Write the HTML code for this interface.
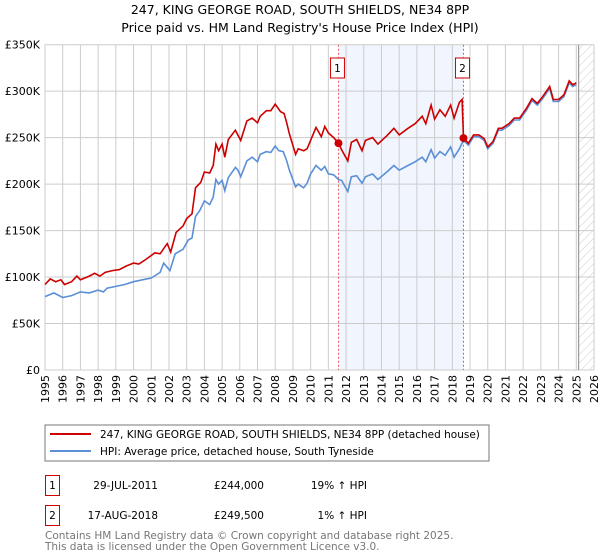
<!DOCTYPE html>
<html><head><meta charset="utf-8"><style>
body{margin:0;background:#fff;font-family:"DejaVu Sans","Liberation Sans",sans-serif}
svg{display:block}
</style></head><body>
<svg id="c" width="600" height="560" font-family="DejaVu Sans, Liberation Sans, sans-serif">
<defs><pattern id="hatch" width="6" height="6" patternUnits="userSpaceOnUse" patternTransform="rotate(45)"><line x1="0" y1="0" x2="0" y2="6" stroke="#ccc" stroke-width="1"/></pattern></defs>
<text x="300" y="14" text-anchor="middle" font-size="12.5" fill="#000">247, KING GEORGE ROAD, SOUTH SHIELDS, NE34 8PP</text>
<text x="300" y="32" text-anchor="middle" font-size="12.5" fill="#000">Price paid vs. HM Land Registry's House Price Index (HPI)</text>
<g id="plot"></g>
<rect x="45" y="425" width="444" height="36" fill="#fff" stroke="#777"/>
<line x1="50" y1="434" x2="91" y2="434" stroke="#cc0000" stroke-width="2"/>
<text x="100" y="438" font-size="10.5">247, KING GEORGE ROAD, SOUTH SHIELDS, NE34 8PP (detached house)</text>
<line x1="50" y1="451" x2="91" y2="451" stroke="#5b8fd6" stroke-width="2"/>
<text x="100" y="455" font-size="10.5">HPI: Average price, detached house, South Tyneside</text>
<g font-size="10.5">
<rect x="45.5" y="475.5" width="14" height="20" fill="#fff" stroke="#cc0000"/>
<text x="52.5" y="489" text-anchor="middle">1</text>
<text x="158" y="489" text-anchor="end">29-JUL-2011</text>
<text x="264" y="489" text-anchor="end">£244,000</text>
<text x="367" y="489" text-anchor="end">19% ↑ HPI</text>
<rect x="45.5" y="505.5" width="14" height="20" fill="#fff" stroke="#cc0000"/>
<text x="52.5" y="519" text-anchor="middle">2</text>
<text x="158" y="519" text-anchor="end">17-AUG-2018</text>
<text x="264" y="519" text-anchor="end">£249,500</text>
<text x="367" y="519" text-anchor="end">1% ↑ HPI</text>
</g>
<text x="45" y="539" font-size="10.5" fill="#777">Contains HM Land Registry data © Crown copyright and database right 2025.</text>
<text x="45" y="550" font-size="10.5" fill="#777">This data is licensed under the Open Government Licence v3.0.</text>
</svg>
<script>
const yTicks=[0,50,100,150,200,250,300,350];
const yTickLabels=["£0","£50K","£100K","£150K","£200K","£250K","£300K","£350K"];
const xYears=[1995,1996,1997,1998,1999,2000,2001,2002,2003,2004,2005,2006,2007,2008,2009,2010,2011,2012,2013,2014,2015,2016,2017,2018,2019,2020,2021,2022,2023,2024,2025,2026];
const saleYears=[2011.57,2018.63];
const saleValues=[244,249.5];
const saleLabels=["1","2"];
const hpiYears=[1995,1995.5,1996,1996.5,1997,1997.5,1998,1998.3,1998.5,1999,1999.5,2000,2000.5,2001,2001.5,2001.7,2002.05,2002.35,2002.8,2003.1,2003.3,2003.5,2003.75,2004,2004.3,2004.5,2004.65,2004.8,2005,2005.15,2005.35,2005.75,2005.9,2006.05,2006.4,2006.7,2007,2007.15,2007.5,2007.75,2008,2008.2,2008.45,2008.65,2008.8,2009.15,2009.3,2009.6,2009.8,2010,2010.3,2010.6,2010.8,2011,2011.3,2011.57,2011.75,2012.1,2012.3,2012.6,2012.9,2013.1,2013.5,2013.8,2014.3,2014.7,2015,2015.5,2015.9,2016.3,2016.5,2016.8,2017,2017.3,2017.6,2017.9,2018.1,2018.4,2018.63,2018.9,2019.2,2019.5,2019.8,2020,2020.3,2020.6,2020.8,2021.2,2021.5,2021.8,2022.2,2022.5,2022.8,2023.1,2023.5,2023.7,2024,2024.3,2024.6,2024.8,2025];
const hpiValues=[79,83,78,80,84,83,86,84,88,90,92,95,97,99,105,115,107,125,130,140,142,165,172,182,178,186,205,200,204,193,207,218,215,208,225,229,224,232,235,234,241,236,235,225,215,197,200,196,201,211,220,215,219,211,210,205,204,192,208,209,201,208,211,205,213,220,215,220,224,229,224,237,228,235,231,240,229,238,247,242,251,251,247,238,244,258,258,263,269,269,280,290,285,292,303,289,289,294,309,305,307];
const paidYears=[1995,1995.3,1995.6,1995.9,1996.1,1996.5,1996.8,1997,1997.5,1997.8,1998.1,1998.4,1998.8,1999.2,1999.6,2000,2000.3,2000.7,2001.2,2001.5,2001.9,2002.1,2002.4,2002.8,2003,2003.3,2003.5,2003.8,2004,2004.3,2004.5,2004.65,2004.8,2005,2005.15,2005.35,2005.75,2006.05,2006.4,2006.7,2007,2007.15,2007.5,2007.75,2008,2008.3,2008.5,2008.65,2008.8,2009.15,2009.3,2009.6,2009.8,2010,2010.3,2010.6,2010.8,2011,2011.3,2011.57,2011.75,2012.1,2012.3,2012.6,2012.9,2013.1,2013.5,2013.8,2014.3,2014.7,2015,2015.5,2015.9,2016.3,2016.5,2016.8,2017,2017.3,2017.6,2017.9,2018.1,2018.4,2018.55,2018.63,2018.9,2019.2,2019.5,2019.8,2020,2020.3,2020.6,2020.8,2021.2,2021.5,2021.8,2022.2,2022.5,2022.8,2023.1,2023.5,2023.7,2024,2024.3,2024.6,2024.8,2025];
const paidValues=[92,98,95,97,92,95,101,97,101,104,101,105,107,108,112,115,114,119,126,125,136,127,148,155,163,168,196,202,213,212,220,243,236,243,229,248,258,247,268,271,266,273,279,279,286,278,276,266,254,232,238,236,238,247,261,251,262,255,250,244,237,225,245,248,236,247,250,243,252,260,253,260,265,273,265,285,270,280,273,285,271,288,291,249.5,244,253,253,249,240,246,260,260,265,271,271,282,292,287,294,305,291,291,296,311,307,309];
const X0=45,X1=594,Y0=370,Y1=44.7;
const xs=y=>X0+(y-1995)*(X1-X0)/31;
const ys=v=>Y0-v*(Y0-Y1)/350;
const NS="http://www.w3.org/2000/svg";
const g=document.getElementById('plot');
function mk(t,a){const e=document.createElementNS(NS,t);for(const k in a)e.setAttribute(k,a[k]);g.appendChild(e);return e;}
let r=mk('rect',{x:xs(saleYears[0]),y:Y1,width:xs(saleYears[1])-xs(saleYears[0]),height:Y0-Y1,fill:'#eef3fc',opacity:0.8});


r=mk('rect',{x:xs(2025.13),y:Y1,width:X1-xs(2025.13),height:Y0-Y1,fill:'url(#hatch)'});


yTicks.forEach((v,i)=>{
 let l=mk('line',{x1:X0,x2:X1,y1:ys(v),y2:ys(v),stroke:'#ccc','stroke-width':1});
 
 
 let t=mk('text',{x:40,y:ys(v)+4,'text-anchor':'end','font-size':11});t.textContent=yTickLabels[i];
 
 
});
xYears.forEach(y=>{
 let l=mk('line',{x1:xs(y),x2:xs(y),y1:Y1,y2:Y0,stroke:'#ccc','stroke-width':1});
 
 
 let t=mk('text',{x:0,y:0,'text-anchor':'end','font-size':11,transform:`translate(${xs(y)+4},375) rotate(-90)`});t.textContent=y;
 
 
});
r=mk('line',{x1:xs(2025.13),x2:xs(2025.13),y1:Y1,y2:Y0,stroke:'#999','stroke-width':1.2});


saleYears.forEach((y,i)=>{
 let l=mk('line',{x1:xs(y),x2:xs(y),y1:Y1,y2:Y0,stroke:'#e06060','stroke-width':1,'stroke-dasharray':'2,2'});
 
 
});
function pts(xa,va){return xa.map((y,i)=>xs(y).toFixed(1)+','+ys(va[i]).toFixed(1)).join(' ');}
let p=mk('polyline',{points:pts(hpiYears,hpiValues),fill:'none',stroke:'#5b8fd6','stroke-width':1.6});


p=mk('polyline',{points:pts(paidYears,paidValues),fill:'none',stroke:'#cc0000','stroke-width':1.6});


saleYears.forEach((y,i)=>{
 let c=mk('circle',{cx:xs(y),cy:ys(saleValues[i]),r:4,fill:'#cc0000'});
 
 
 let b=mk('rect',{x:xs(y)-8,y:58,width:14,height:20,fill:'#fff',stroke:'#cc0000'});
 
 
 let t=mk('text',{x:xs(y)-1,y:72,'text-anchor':'middle','font-size':10.5});t.textContent=saleLabels[i];
 
 
});
</script>
</body></html>
